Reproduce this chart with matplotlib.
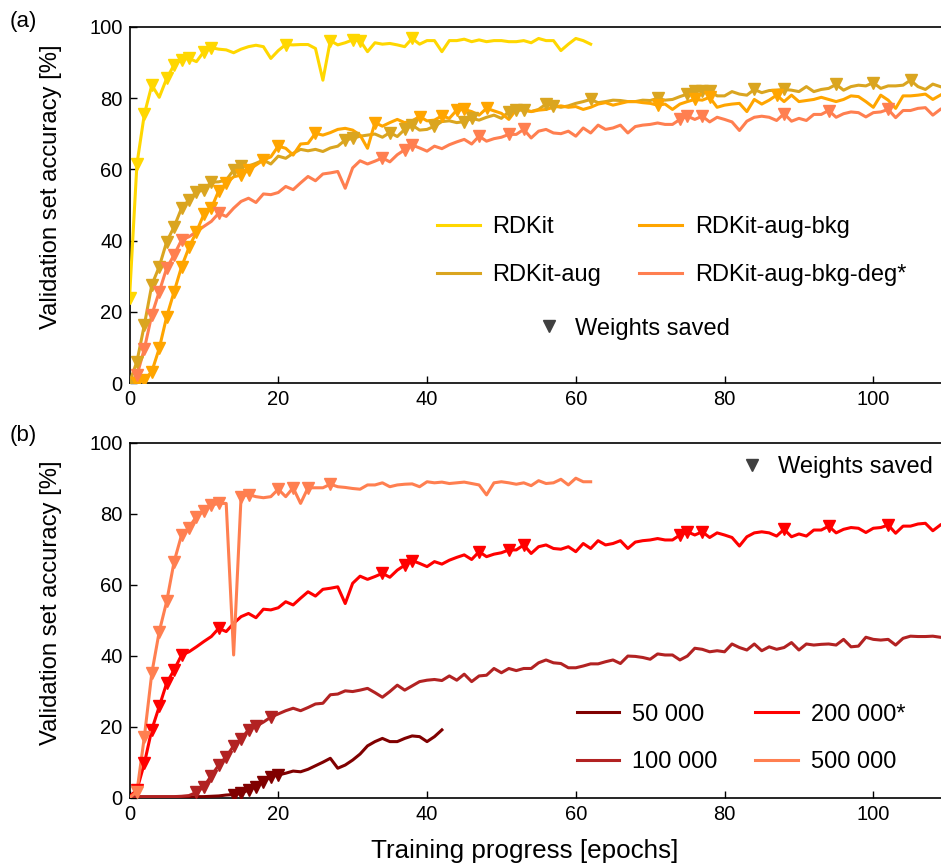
import numpy as np
import matplotlib
matplotlib.use("Agg")
import matplotlib.pyplot as plt
from matplotlib.lines import Line2D

plt.rcParams['font.family'] = ['Liberation Sans', 'DejaVu Sans']

# ---------------- data: panel (a) ----------------
acc_rdkit = [23.8, 61.5, 75.5, 83.6, 80.2, 85.5, 89.3, 90.8, 91.1, 90.2,
             93.0, 94.1, 93.7, 93.5, 92.7, 93.7, 94.4, 94.8, 94.4, 91.1,
             93.3, 95.0, 94.9, 95.0, 95.0, 93.9, 85.0, 96.1, 94.9, 95.5,
             96.3, 96.1, 93.0, 95.5, 95.1, 95.3, 94.9, 94.4, 96.7, 95.1,
             96.1, 96.1, 93.0, 96.1, 96.1, 96.5, 95.8, 96.3, 95.8, 96.1,
             96.1, 95.8, 95.8, 96.1, 95.5, 96.7, 96.1, 96.1, 93.3, 95.1,
             96.7, 96.1, 95.1]
saved_rdkit = [0, 1, 2, 3, 5, 6, 7, 8, 10, 11, 21, 27, 30, 31, 38]

acc_rdkit_aug = [0.2, 6.1, 16.4, 27.6, 32.7, 39.7, 43.9, 49.1, 51.4, 53.7,
                 54.2, 56.4, 56.5, 57.0, 59.8, 60.9, 60.9, 61.7, 62.6, 61.5,
                 63.7, 63.1, 64.5, 65.6, 65.2, 65.6, 65.0, 66.0, 66.5, 68.2,
                 68.7, 69.3, 69.6, 69.9, 69.0, 70.3, 69.2, 71.2, 72.4, 71.0,
                 71.2, 72.1, 73.4, 73.6, 73.1, 73.4, 74.3, 73.8, 74.6, 75.2,
                 74.3, 76.2, 76.6, 76.6, 76.2, 76.8, 78.3, 77.8, 77.4, 77.8,
                 78.5, 79.0, 79.6, 78.7, 79.0, 79.4, 79.3, 79.0, 79.0, 79.4,
                 79.3, 79.9, 79.4, 79.6, 80.4, 81.1, 82.1, 82.1, 82.1, 80.6,
                 80.6, 81.8, 81.1, 80.8, 82.4, 81.5, 82.1, 82.2, 82.4, 82.2,
                 81.8, 83.2, 81.8, 82.4, 82.7, 83.8, 82.2, 83.2, 83.6, 83.4,
                 84.3, 82.7, 83.4, 83.4, 83.6, 85.0, 83.2, 82.4, 83.9, 83.2]
saved_rdkit_aug = [0, 1, 2, 3, 4, 5, 6, 7, 8, 9, 10, 11, 14, 15, 29, 30, 35,
                   37, 38, 41, 45, 46, 51, 52, 53, 56, 57, 62, 71, 75, 76, 77,
                   78, 84, 88, 95, 100, 105]

acc_rdkit_aug_bkg = [0.0, 0.0, 0.9, 3.3, 9.8, 18.7, 25.7, 32.7, 38.1, 42.5,
                     47.4, 49.1, 54.0, 56.1, 57.9, 58.4, 59.8, 61.2, 62.6, 63.5,
                     66.5, 65.9, 64.0, 67.1, 67.3, 70.1, 69.6, 70.3, 71.2, 71.5,
                     71.0, 69.6, 65.9, 73.1, 72.1, 73.1, 74.0, 73.1, 73.6, 74.8,
                     73.6, 73.8, 75.0, 74.3, 76.6, 76.8, 76.2, 75.2, 77.1, 76.4,
                     75.7, 74.0, 76.8, 76.8, 76.2, 76.6, 76.8, 77.4, 77.8, 77.4,
                     77.6, 76.8, 77.4, 78.3, 78.7, 78.0, 78.5, 79.0, 79.0, 78.7,
                     78.5, 78.0, 78.3, 76.8, 78.3, 79.0, 79.6, 79.4, 80.2, 77.4,
                     78.0, 78.3, 78.5, 76.2, 79.6, 78.3, 79.4, 80.8, 79.0, 80.8,
                     79.0, 79.3, 79.6, 80.2, 79.6, 79.0, 79.6, 80.6, 80.4, 79.0,
                     77.4, 80.8, 79.4, 77.1, 80.6, 80.6, 80.8, 81.1, 79.6, 80.8]
saved_rdkit_aug_bkg = [1, 2, 3, 4, 5, 6, 7, 8, 9, 10, 11, 12, 13, 15, 16, 18,
                       20, 25, 33, 39, 42, 44, 45, 48, 71, 76, 78, 87]

# ---------------- data: panel (b) ----------------
acc_200k = [0.3, 2.2, 9.7, 19.2, 25.7, 32.3, 36.0, 40.2, 41.1, 42.5,
            44.0, 45.4, 47.7, 46.8, 49.1, 51.0, 51.9, 50.7, 53.1, 52.9,
            53.5, 55.2, 54.3, 56.2, 58.0, 56.8, 58.7, 59.0, 59.4, 54.7,
            60.4, 62.4, 61.5, 62.3, 63.2, 62.1, 64.1, 65.5, 66.8, 66.0,
            65.1, 66.5, 65.8, 66.9, 67.7, 68.4, 67.1, 69.3, 67.9, 68.6,
            69.0, 69.8, 69.8, 71.2, 68.8, 70.7, 71.2, 70.2, 70.0, 70.7,
            69.3, 71.6, 70.2, 72.4, 71.2, 71.6, 72.4, 70.2, 72.0, 72.4,
            72.6, 73.0, 72.6, 72.6, 74.0, 74.9, 74.0, 74.9, 73.3, 74.6,
            74.0, 73.3, 70.9, 73.5, 74.6, 74.9, 74.6, 73.7, 75.6, 73.5,
            74.3, 73.7, 75.4, 75.4, 76.5, 74.6, 75.6, 76.1, 75.9, 74.7,
            75.9, 76.1, 76.8, 74.5, 76.5, 76.5, 77.1, 77.3, 75.2, 76.8]
saved_200k = [1, 2, 3, 4, 5, 6, 7, 12, 34, 37, 38, 47, 51, 53, 74, 75, 77,
              88, 94, 102]

# RDKit-aug-bkg-deg* is the same run as the 200 000* model
acc_rdkit_aug_bkg_deg = acc_200k
saved_rdkit_aug_bkg_deg = saved_200k

acc_50k = [0.2, 0.2, 0.2, 0.2, 0.2, 0.2, 0.2, 0.2, 0.2, 0.3,
           0.3, 0.4, 0.5, 0.75, 0.9, 1.2, 2.2, 3.1, 4.5, 5.9,
           6.4, 6.9, 7.5, 7.3, 8.0, 9.0, 10.0, 11.1, 8.3, 9.2,
           10.6, 12.3, 14.6, 15.8, 16.7, 15.8, 15.8, 16.7, 17.4, 17.2,
           15.8, 17.2, 19.1]
saved_50k = [14, 15, 16, 17, 18, 19, 20]

acc_100k = [0.3, 0.3, 0.3, 0.3, 0.3, 0.3, 0.3, 0.4, 0.6, 1.5,
            3.1, 6.2, 9.2, 11.5, 14.6, 16.4, 19.2, 20.1, 21.3, 22.7,
            23.6, 24.5, 25.2, 24.5, 25.4, 26.4, 26.6, 29.0, 29.2, 30.1,
            29.9, 30.3, 30.8, 29.6, 28.3, 29.9, 31.7, 30.3, 31.5, 32.7,
            33.1, 33.3, 33.0, 34.3, 33.1, 34.8, 32.7, 34.3, 34.5, 36.4,
            35.2, 36.4, 35.8, 36.4, 36.4, 38.0, 38.8, 38.0, 37.8, 36.6,
            36.6, 37.1, 37.7, 37.7, 38.3, 38.8, 37.8, 39.9, 39.8, 39.5,
            39.0, 40.5, 40.2, 40.2, 38.8, 39.9, 42.1, 41.8, 41.1, 41.4,
            41.1, 43.3, 42.3, 41.6, 43.3, 41.4, 42.5, 41.8, 42.3, 43.7,
            41.6, 43.3, 43.0, 43.2, 43.3, 43.0, 44.6, 42.5, 42.7, 45.2,
            44.6, 44.4, 44.6, 43.0, 44.9, 45.5, 45.4, 45.4, 45.5, 45.2]
saved_100k = [9, 10, 11, 12, 13, 14, 15, 16, 17, 19]

acc_500k = [0.0, 1.7, 17.2, 35.1, 46.8, 55.3, 66.5, 74.0, 76.1, 79.2,
            80.8, 82.4, 82.9, 82.9, 40.2, 84.8, 85.4, 84.8, 84.5, 84.8,
            86.9, 84.8, 87.3, 82.9, 87.3, 87.3, 87.3, 88.3, 87.6, 87.4,
            87.1, 86.9, 88.1, 88.1, 88.7, 87.6, 88.1, 88.3, 88.4, 87.6,
            89.0, 88.7, 88.9, 88.5, 88.7, 88.9, 88.5, 88.1, 85.3, 88.7,
            89.0, 88.7, 88.3, 88.7, 87.9, 89.3, 88.5, 88.7, 89.7, 88.1,
            90.0, 89.0, 89.0]
saved_500k = [1, 2, 3, 4, 5, 6, 7, 8, 9, 10, 11, 12, 15, 16, 20, 22, 24, 27]

labels_a = ["RDKit", "RDKit-aug", "RDKit-aug-bkg", "RDKit-aug-bkg-deg*"]
labels_b = ["50 000", "100 000", "200 000*", "500 000"]
xticks = [0, 20, 40, 60, 80, 100]
yticks = [0, 20, 40, 60, 80, 100]

colors_a = ["#FFD700", "#DAA520", "#FFA500", "#FF7F50"]
colors_b = ["#800000", "#B22222", "#FF0000", "#FF7F50"]

series_a = [(acc_rdkit, saved_rdkit), (acc_rdkit_aug, saved_rdkit_aug),
            (acc_rdkit_aug_bkg, saved_rdkit_aug_bkg),
            (acc_rdkit_aug_bkg_deg, saved_rdkit_aug_bkg_deg)]
series_b = [(acc_50k, saved_50k), (acc_100k, saved_100k),
            (acc_200k, saved_200k), (acc_500k, saved_500k)]

W, H = 941, 865
fig = plt.figure(figsize=(W / 100, H / 100), dpi=100)

x0 = 129.5
xmax = 109.1
ax_a = fig.add_axes([x0 / W, 1 - 383.3 / H, 1 - x0 / W, (383.3 - 26.7) / H])
ax_b = fig.add_axes([x0 / W, 1 - 797.7 / H, 1 - x0 / W, (797.7 - 442.7) / H])

LW = 2.2
MS = 8
FS_TICK = 14.5
FS_LEG = 17


def draw(ax, series, colors, labels):
    handles = []
    for (vals, saved), c, lab in zip(series, colors, labels):
        x = np.arange(len(vals))
        y = np.asarray(vals, dtype=float)
        ln, = ax.plot(x, y, color=c, lw=LW, label=lab, zorder=3)
        s = np.asarray(saved)
        ax.plot(x[s], y[s], ls='none', marker='v', ms=MS, color=c, zorder=4)
        handles.append(ln)
    ax.set_xlim(0, xmax)
    ax.set_ylim(0, 100)
    ax.set_xticks(xticks)
    ax.set_yticks(yticks)
    ax.tick_params(direction='in', length=5, width=1, labelsize=FS_TICK,
                   top=False, right=False, pad=5)
    ax.spines['right'].set_visible(False)
    for sp in ['left', 'bottom', 'top']:
        ax.spines[sp].set_linewidth(1.2)
    ax.set_ylabel("Validation set accuracy [%]", fontsize=17.2)
    ax.yaxis.set_label_coords(-0.083, 0.55)
    return handles


h_a = draw(ax_a, series_a, colors_a, labels_a)
h_b = draw(ax_b, series_b, colors_b, labels_b)

leg_kw = dict(ncol=2, frameon=False, fontsize=FS_LEG, handlelength=1.8,
              handletextpad=0.55, columnspacing=1.6, labelspacing=1.08,
              borderpad=0, borderaxespad=0)
leg_a = ax_a.legend(h_a, labels_a, loc='upper left',
                    bbox_to_anchor=(0.379, 0.468), **leg_kw)
ax_a.add_artist(leg_a)
saved_handle = Line2D([], [], ls='none', marker='v', ms=MS, color='#404040')
ax_a.legend([saved_handle], ["Weights saved"], loc='center left',
            bbox_to_anchor=(0.502, 0.153), frameon=False, fontsize=FS_LEG,
            handlelength=1.0, handletextpad=0.6, borderpad=0, borderaxespad=0)

leg_b = ax_b.legend(h_b, labels_b, loc='upper left',
                    bbox_to_anchor=(0.551, 0.265), **leg_kw)
ax_b.add_artist(leg_b)
ax_b.legend([saved_handle], ["Weights saved"], loc='center left',
            bbox_to_anchor=(0.752, 0.932), frameon=False, fontsize=FS_LEG,
            handlelength=1.0, handletextpad=0.6, borderpad=0, borderaxespad=0)

fig.text(525 / W, 1 - 851 / H, "Training progress [epochs]", fontsize=18.7,
         ha='center', va='center')
fig.text(10 / W, 1 - 22 / H, "(a)", fontsize=16, ha='left', va='center')
fig.text(10 / W, 1 - 436 / H, "(b)", fontsize=16, ha='left', va='center')

fig.savefig("out.png", dpi=100)
